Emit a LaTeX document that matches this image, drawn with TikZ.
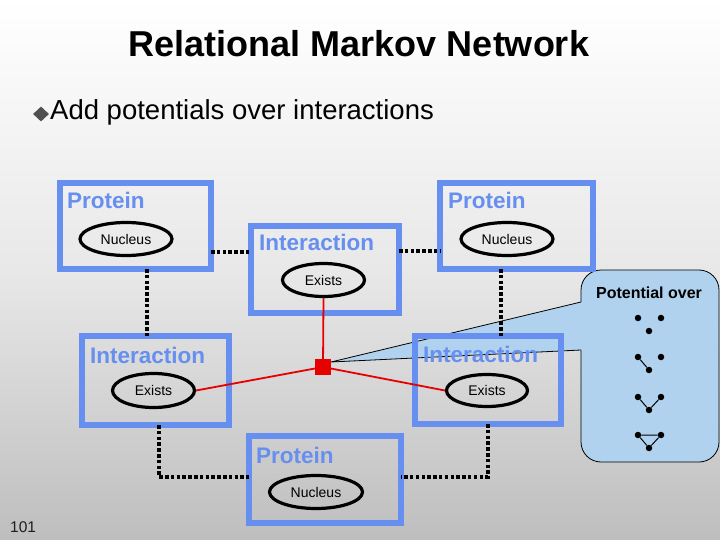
\documentclass[tikz,border=0pt]{standalone}
\usepackage{fontspec}
\setmainfont{Liberation Sans}
\usetikzlibrary{shapes.geometric}
\definecolor{boxblue}{RGB}{102,143,240}
\definecolor{callblue}{RGB}{176,210,238}
\definecolor{potred}{RGB}{230,0,0}
\definecolor{bulgray}{RGB}{80,80,80}
\begin{document}
\begin{tikzpicture}[x=1pt,y=-1pt,
  classbox/.style={draw=boxblue,line width=6pt,rectangle,inner sep=0pt,outer sep=0pt},
  boxlabel/.style={anchor=base west,inner sep=0pt,text=boxblue,font=\fontsize{22.5}{24}\selectfont\bfseries},
  attr/.style={draw=black,line width=3.2pt,ellipse,inner sep=0pt,font=\fontsize{14}{16}\selectfont},
  slot/.style={draw=black,line width=4.5pt,dash pattern=on 3.5pt off 2.3pt},
  redline/.style={draw=potred,line width=1.8pt},
  dotnode/.style={circle,fill=black,inner sep=0pt,minimum size=6.5pt},
  dotedge/.style={draw=black,line width=1pt}]
% background
\shade[top color=white,bottom color={rgb,255:red,190;green,190;blue,190},middle color={rgb,255:red,232;green,232;blue,232}] (0,0) rectangle (720,540);
\useasboundingbox (0,0) rectangle (720,540);
% title and bullet
\node[anchor=base,inner sep=0pt,font=\fontsize{36}{40}\selectfont\bfseries] (title) at (359,57) {Relational Markov Network};
\node[diamond,fill=bulgray,inner sep=0pt,minimum width=16pt,minimum height=15pt] (bul) at (41,114) {};
\node[anchor=base west,inner sep=0pt,font=\fontsize{27.5}{30}\selectfont] (bt) at (50,120) {Add potentials over interactions};
% callout
\node[draw=black,line width=0.8pt,fill=callblue,rectangle,rounded corners=20pt,minimum width=138pt,minimum height=192pt,inner sep=0pt] (pot) at (650,366) {};
\coordinate (tip) at (331,362);
\coordinate (ca) at (581,302);
\coordinate (cb) at (581,350);
\fill[callblue] (tip) -- (ca) -- (583,302) -- (583,350) -- (cb) -- cycle;
\draw[line width=0.8pt] (ca) -- (tip) -- (cb);
\node[anchor=base,inner sep=0pt,font=\fontsize{16}{18}\selectfont\bfseries] (potlab) at (649,298) {Potential over};
% dot patterns
\foreach \i/\yt in {1/318,2/357,3/397,4/435}{
  \node[dotnode] (l\i) at (638,\yt) {};
  \node[dotnode] (r\i) at (661,\yt) {};
  \node[dotnode] (b\i) at (649,\yt+13) {};
}
\draw[dotedge] (l2) -- (b2);
\draw[dotedge] (l3) -- (b3) -- (r3);
\draw[dotedge] (l4) -- (b4) -- (r4) -- (l4);
% boxes
\node[classbox,minimum width=151pt,minimum height=86pt] (p1) at (135.5,226) {};
\node[classbox,minimum width=153pt,minimum height=86pt] (p2) at (516.5,226) {};
\node[classbox,minimum width=148pt,minimum height=87pt] (i1) at (325,269.5) {};
\node[classbox,minimum width=147pt,minimum height=89pt] (i2) at (155.5,380.5) {};
\node[classbox,minimum width=146pt,minimum height=88pt] (i3) at (488,380) {};
\node[classbox,minimum width=152pt,minimum height=87pt] (p3) at (325,479.5) {};
\node[boxlabel] (p1l) at (67,209) {Protein};
\node[boxlabel] (p2l) at (448,209) {Protein};
\node[boxlabel] (i1l) at (259,251) {Interaction};
\node[boxlabel] (i2l) at (90,363) {Interaction};
\node[boxlabel] (i3l) at (423,362) {Interaction};
\node[boxlabel] (p3l) at (256,463) {Protein};
% attributes
\node[attr,minimum width=92pt,minimum height=33pt] (n1) at (126,239) {Nucleus};
\node[attr,minimum width=92pt,minimum height=33pt] (n2) at (507,239) {Nucleus};
\node[attr,minimum width=82pt,minimum height=33pt] (e1) at (323.5,280) {Exists};
\node[attr,minimum width=82pt,minimum height=34pt] (e2) at (153.5,390.5) {Exists};
\node[attr,minimum width=81pt,minimum height=32pt] (e3) at (487,390.5) {Exists};
\node[attr,minimum width=93pt,minimum height=33pt] (n3) at (316,492) {Nucleus};
% slot chains
\draw[slot] (p1.east |- 0,252) -- (i1.west |- 0,252);
\draw[slot] (i1.east |- 0,251) -- (p2.west |- 0,251);
\draw[slot] (p1.south -| 147,0) -- (i2.north -| 147,0);
\draw[slot] (p2.south -| 501,0) -- (i3.north -| 501,0);
\draw[slot] (i2.south -| 159,0) |- (p3.west |- 0,477);
\draw[slot] (i3.south -| 488,0) |- (p3.east |- 0,477);
% potential
\node[rectangle,fill=potred,minimum size=16pt,inner sep=0pt] (sq) at (323,367) {};
\draw[redline] (e1.south) -- (sq.center);
\draw[redline] (e2.east) -- (sq.center);
\draw[redline] (e3.west) -- (sq.center);
\node[rectangle,fill=potred,minimum size=16pt,inner sep=0pt] (sq2) at (sq) {};
% slide number
\node[anchor=base west,inner sep=0pt,font=\fontsize{15.5}{17}\selectfont,text={rgb,255:red,30;green,30;blue,30}] (num) at (10,532) {101};
\end{tikzpicture}
\end{document}
